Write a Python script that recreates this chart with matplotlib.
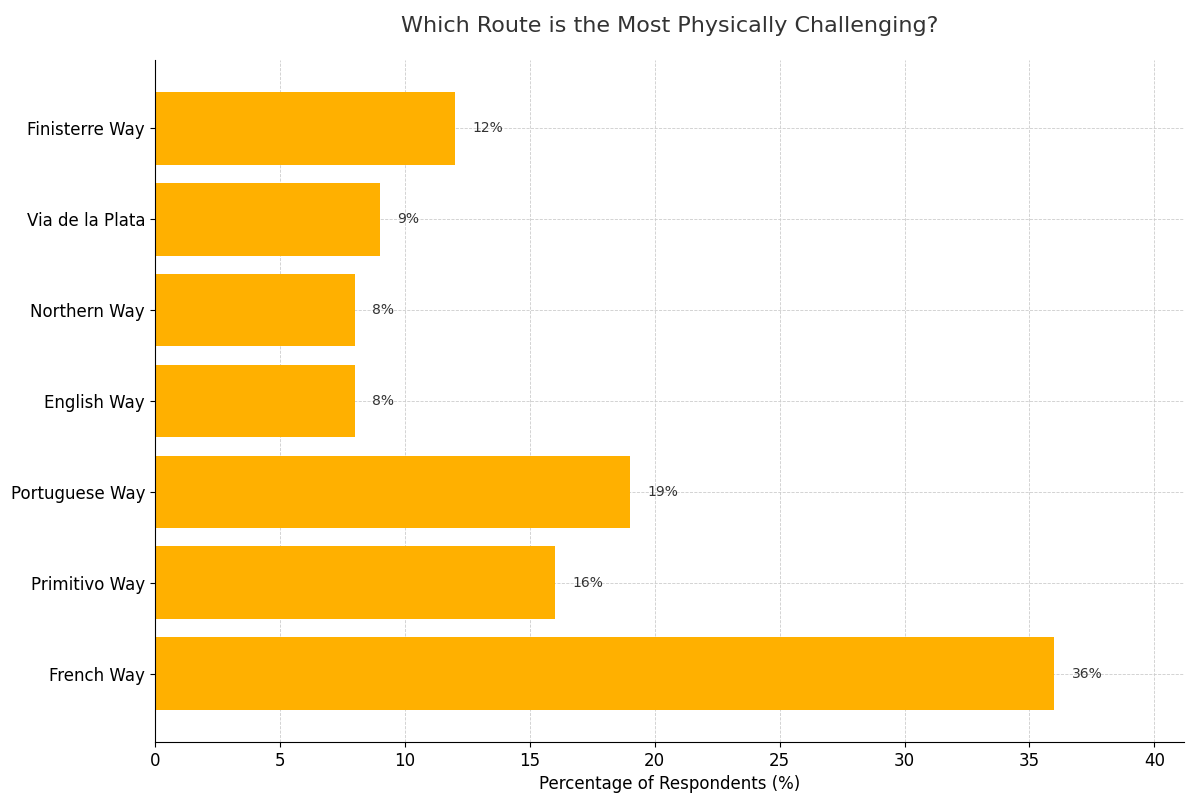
import matplotlib
matplotlib.use("Agg")
import matplotlib.pyplot as plt

routes = ["French Way", "Primitivo Way", "Portuguese Way", "English Way",
          "Northern Way", "Via de la Plata", "Finisterre Way"]
values = [36, 16, 19, 8, 8, 9, 12]

fig = plt.figure(figsize=(12, 8), dpi=100)
ax = fig.add_axes([0.129, 0.0725, 0.858, 0.8525])
bars = ax.barh(routes, values, color="#FFB000", height=0.8, zorder=2)
for i, v in enumerate(values):
    ax.text(v + 0.7, i, f"{v}%", va="center", ha="left", fontsize=10, color="#333333")
ax.set_xlim(0, 41.2)
ax.set_ylim(-0.75, 6.75)
ax.set_xticks(range(0, 41, 5))
ax.grid(True, linestyle="--", linewidth=0.6, color="#cccccc", zorder=0)
ax.set_axisbelow(True)
for s in ["top", "right"]:
    ax.spines[s].set_visible(False)
ax.tick_params(labelsize=12)
ax.set_xlabel("Percentage of Respondents (%)", fontsize=12)
ax.set_title("Which Route is the Most Physically Challenging?", fontsize=16, color="#333333", pad=20)
fig.savefig("out.png", dpi=100)
